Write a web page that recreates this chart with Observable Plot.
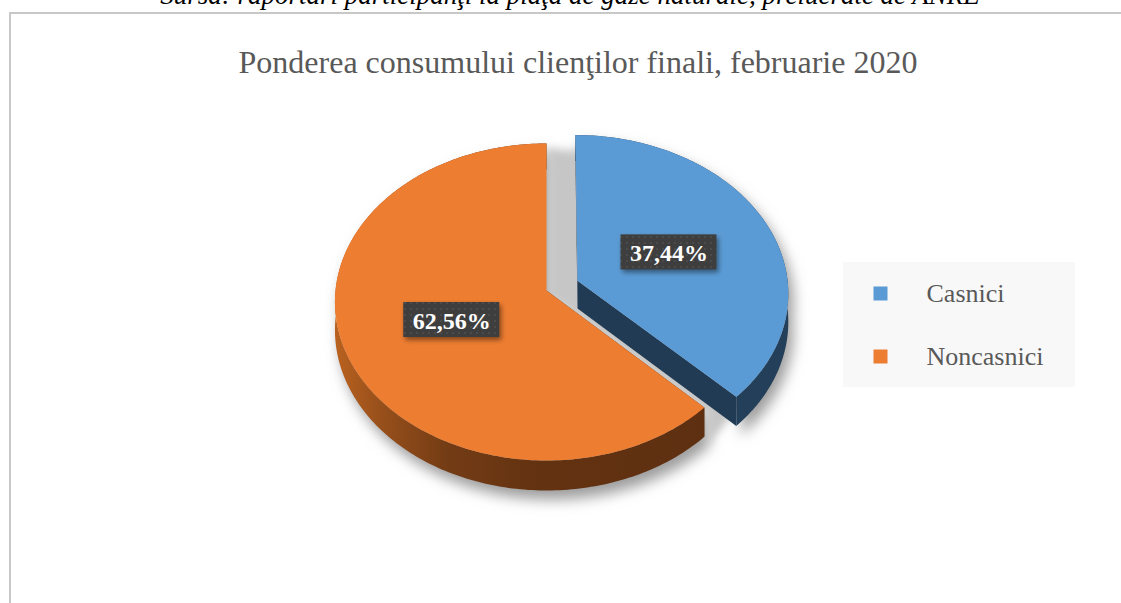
<!DOCTYPE html>
<html>
<head>
<meta charset="utf-8">
<script src="https://cdn.jsdelivr.net/npm/d3@7"></script>
<script src="https://cdn.jsdelivr.net/npm/@observablehq/plot@0.6"></script>
<style>
  html, body { margin: 0; padding: 0; background: #fff; width: 1121px; height: 603px; overflow: hidden; }
  #source { position: absolute; left: 570px; top: -18.5px; transform: translateX(-50%); white-space: nowrap;
            font-family: "Liberation Serif", "Times New Roman", serif; font-style: italic; font-size: 27px; line-height: 27px; color: #000; }
  #frame { position: absolute; left: 9px; top: 12px; width: 1300px; height: 800px;
           border-left: 2px solid #c8c8c8; border-top: 2px solid #c8c8c8; }
  #title { position: absolute; left: 578px; top: 46px; transform: translateX(-50%); white-space: nowrap;
           font-family: "Liberation Serif", "Times New Roman", serif; font-size: 32px; line-height: 32px; color: #595959; }
  #chart { position: absolute; left: 0; top: 0; }
</style>
</head>
<body>
<div id="source">Sursa: raportări participanţi la piaţa de gaze naturale, prelucrate de ANRE</div>
<div id="frame"></div>
<div id="title">Ponderea consumului clienţilor finali, februarie 2020</div>
<div id="chart"></div>
<script>
// ---- data ----
const categories = ["Casnici", "Noncasnici"];
const shares = [37.44, 62.56];
const shareLabels = ["37,44%", "62,56%"];
const sliceColors = ["#5b9bd5", "#ed7d31"];
const sideColors = ["#233f5a", "url(#orangeSide)"];
const faceColors = ["#213b55", "#5e3011"];
const explodeBy = [0.16, 0];

// ---- layout (3D pie projection) ----
const W = 1121, H = 603;
const CX = 546, CY = 301.5, RX = 211, RY = 158.5, PERSP = -0.0726, DEPTH = 27.8, LABEL_R = 0.48;
const LEG = {x1: 843, x2: 1075, y1: 262, y2: 387, markerX: 880, textX: 926, rowY0: 293, rowStep: 63};

function proj(u, v, h) {
  const w = 1 + PERSP * v;
  return {x: CX + RX * u / w, y: CY + (RY * (v + PERSP) + DEPTH * h) / w};
}
function rim(a0, a1, h, ou, ov) {
  const n = Math.max(2, Math.ceil(Math.abs(a1 - a0) / (Math.PI / 180)));
  const pts = [];
  for (let k = 0; k <= n; k++) {
    const a = a0 + (a1 - a0) * k / n;
    pts.push(proj(ou + Math.sin(a), ov - Math.cos(a), h));
  }
  return pts;
}

const arcs = d3.pie().sort(null).value(d => d)(shares);
const topPts = [], sidePts = [], facePts = [], shadowPts = [], gapPts = [], labelData = [];
function push(arr, pts, key, i) { pts.forEach(p => arr.push({x: p.x, y: p.y, key, i, cat: categories[i]})); }

arcs.forEach((a, i) => {
  const mid = (a.startAngle + a.endAngle) / 2;
  const build = (e) => {
    const ou = e * Math.sin(mid), ov = -e * Math.cos(mid);
    const c0 = proj(ou, ov, 0), c1 = proj(ou, ov, 1);
    const top = [c0, ...rim(a.startAngle, a.endAngle, 0, ou, ov)];
    const side = [...rim(a.startAngle, a.endAngle, 0, ou, ov), ...rim(a.endAngle, a.startAngle, 1, ou, ov)];
    const faces = [a.startAngle, a.endAngle].map(t => [c0,
      proj(ou + Math.sin(t), ov - Math.cos(t), 0), proj(ou + Math.sin(t), ov - Math.cos(t), 1), c1]);
    return {ou, ov, top, side, faces};
  };
  const s = build(explodeBy[i]);
  push(topPts, s.top, "top" + i, i);
  push(sidePts, s.side, "side" + i, i);
  s.faces.forEach((f, k) => push(facePts, f, "face" + i + "_" + k, i));
  push(shadowPts, s.top, "sht" + i, i);
  push(shadowPts, s.side, "shs" + i, i);
  if (explodeBy[i] > 0) {
    const s0 = build(0);
    push(gapPts, s0.top, "gapt" + i, i);
    push(gapPts, s0.side, "gaps" + i, i);
  }
  const lp = proj(s.ou + LABEL_R * Math.sin(mid), s.ov - LABEL_R * Math.cos(mid), 0);
  labelData.push({x: lp.x, y: lp.y, label: shareLabels[i], cat: categories[i]});
});

const poly = (data, fill, extra = {}) => Plot.line(data, {x: "x", y: "y", z: "key", fill, stroke: "none", curve: "linear-closed", ...extra});

const pieShadow = poly(shadowPts, "#9c9c9c", {dx: 5, dy: 9});
const gapShadow = poly(gapPts, "#c6c6c6", {dx: 2, dy: 6});
const marks = [pieShadow, gapShadow];
[0, 1].forEach(i => {
  marks.push(poly(facePts.filter(d => d.i === i), faceColors[i]));
  marks.push(poly(sidePts.filter(d => d.i === i), sideColors[i]));
  marks.push(poly(topPts.filter(d => d.i === i), "cat"));
});
const boxShadow = Plot.rect(labelData, {x1: d => d.x - 48, x2: d => d.x + 48, y1: d => d.y - 17.5, y2: d => d.y + 17.5,
    fill: "#000", fillOpacity: 0.45, dx: 2, dy: 3});
marks.push(
  boxShadow,
  Plot.rect(labelData, {x1: d => d.x - 48, x2: d => d.x + 48, y1: d => d.y - 17.5, y2: d => d.y + 17.5, fill: "url(#dots)"}),
  Plot.text(labelData, {x: "x", y: "y", text: "label", fill: "#fff", fontSize: 24, fontWeight: "bold", dy: 1}),
  Plot.rect([LEG], {x1: "x1", x2: "x2", y1: "y1", y2: "y2", fill: "#f8f8f8"}),
  Plot.dot(categories, {x: LEG.markerX, y: (d, i) => LEG.rowY0 + i * LEG.rowStep, fill: d => d, symbol: "square", r: 7.9}),
  Plot.text(categories, {x: LEG.textX, y: (d, i) => LEG.rowY0 + i * LEG.rowStep, text: d => d, textAnchor: "start",
    fontSize: 26, fill: "#595959"})
);

const chart = Plot.plot({
  width: W, height: H, margin: 0,
  x: {domain: [0, W], range: [0, W], axis: null},
  y: {domain: [0, H], range: [0, H], axis: null},
  color: {domain: categories, range: sliceColors},
  style: {background: "transparent", fontFamily: "'Liberation Serif', 'Times New Roman', serif", overflow: "visible"},
  marks
});

const svg = d3.select(chart);
const defs = svg.insert("defs", ":first-child");
function addBlur(id, sd) {
  defs.append("filter").attr("id", id).attr("filterUnits", "userSpaceOnUse")
    .attr("x", -50).attr("y", -50).attr("width", W + 100).attr("height", H + 100)
    .append("feGaussianBlur").attr("in", "SourceGraphic").attr("stdDeviation", sd);
}
addBlur("softBlur", 7);
addBlur("gapBlur", 4);
addBlur("boxBlur", 2.5);
const pat = defs.append("pattern").attr("id", "dots").attr("patternUnits", "userSpaceOnUse").attr("width", 6).attr("height", 6);
pat.append("rect").attr("width", 6).attr("height", 6).attr("fill", "#3e3e3e");
pat.append("circle").attr("cx", 3).attr("cy", 3).attr("r", 0.8).attr("fill", "#5a5a5a");
const grad = defs.append("linearGradient").attr("id", "orangeSide").attr("gradientUnits", "userSpaceOnUse")
  .attr("x1", CX - RX).attr("x2", CX + RX * 0.75).attr("y1", 0).attr("y2", 0);
[[0, "#b9611f"], [0.12, "#98501b"], [0.3, "#743c15"], [0.55, "#633211"], [1, "#5e3011"]]
  .forEach(([o, c]) => grad.append("stop").attr("offset", o).attr("stop-color", c));

// mark groups are the svg's direct <g> children, in mark order
const groups = Array.from(chart.children).filter(el => el.tagName.toLowerCase() === "g");
[[pieShadow, "softBlur"], [gapShadow, "gapBlur"], [boxShadow, "boxBlur"]].forEach(([m, id]) => {
  const g = groups[marks.indexOf(m)];
  if (g) g.setAttribute("filter", `url(#${id})`);
});

document.getElementById("chart").appendChild(chart);
</script>
</body>
</html>
